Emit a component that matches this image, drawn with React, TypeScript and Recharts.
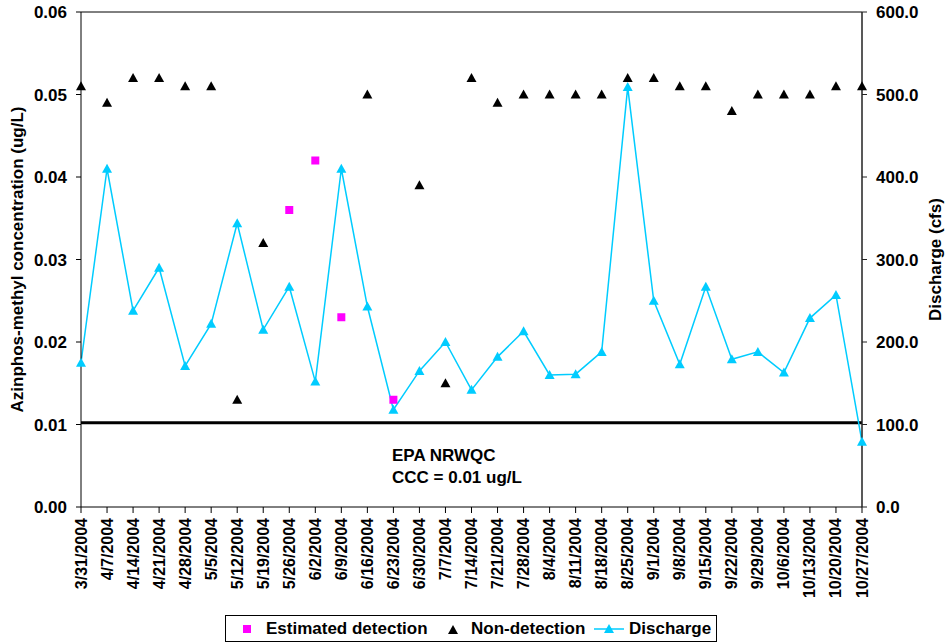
import { ComposedChart, Line, Scatter, XAxis, YAxis, ReferenceLine, Legend, Label } from 'recharts';

const dates = [
  '3/31/2004', '4/7/2004', '4/14/2004', '4/21/2004', '4/28/2004', '5/5/2004', '5/12/2004', '5/19/2004',
  '5/26/2004', '6/2/2004', '6/9/2004', '6/16/2004', '6/23/2004', '6/30/2004', '7/7/2004', '7/14/2004',
  '7/21/2004', '7/28/2004', '8/4/2004', '8/11/2004', '8/18/2004', '8/25/2004', '9/1/2004', '9/8/2004',
  '9/15/2004', '9/22/2004', '9/29/2004', '10/6/2004', '10/13/2004', '10/20/2004', '10/27/2004',
];

const estimated = [
  null, null, null, null, null, null, null, null,
  0.036, 0.042, 0.023, null, 0.013, null, null, null,
  null, null, null, null, null, null, null, null,
  null, null, null, null, null, null, null,
];

const nonDetect = [
  0.051, 0.049, 0.052, 0.052, 0.051, 0.051, 0.013, 0.032,
  null, null, null, 0.05, null, 0.039, 0.015, 0.052,
  0.049, 0.05, 0.05, 0.05, 0.05, 0.052, 0.052, 0.051,
  0.051, 0.048, 0.05, 0.05, 0.05, 0.051, 0.051,
];

const discharge = [
  175, 410, 238, 290, 171, 222, 344, 215,
  267, 152, 410, 243, 118, 165, 200, 142,
  182, 213, 160, 161, 188, 509, 250, 173,
  267, 179, 188, 163, 229, 257, 79,
];

const leftTicks = [0, 0.01, 0.02, 0.03, 0.04, 0.05, 0.06];
const rightTicks = [0, 100, 200, 300, 400, 500, 600];
const criterion = 0.0102;

const data = dates.map((date, i) => ({
  date,
  est: estimated[i],
  nd: nonDetect[i],
  q: discharge[i],
}));

const FONT = '"Liberation Sans", Arial, sans-serif';
const CYAN = '#00CCFF';
const MAGENTA = '#FF00FF';

const tri = (cx: number, cy: number, fill: string) => (
  <polygon points={`${cx},${cy - 5} ${cx - 5},${cy + 4} ${cx + 5},${cy + 4}`} fill={fill} />
);

const EstShape = (p: any) => {
  if (p.payload == null || p.payload.est == null) return <g />;
  return <rect x={p.cx - 4} y={p.cy - 4} width={8} height={8} fill={MAGENTA} />;
};

const NdShape = (p: any) => {
  if (p.payload == null || p.payload.nd == null) return <g />;
  return tri(p.cx, p.cy, '#000');
};

const QDot = (p: any) => <g key={p.index}>{tri(p.cx, p.cy, CYAN)}</g>;

const XTick = ({ x, y, payload }: any) => (
  <text
    x={x}
    y={y + 3}
    transform={`rotate(-90 ${x} ${y + 3})`}
    textAnchor="end"
    dominantBaseline="central"
    fontFamily={FONT}
    fontWeight="bold"
    fontSize={16}
    fill="#000"
  >
    {payload.value}
  </text>
);

const LeftTitle = ({ viewBox }: any) => {
  const cx = 17;
  const cy = viewBox.y + viewBox.height / 2;
  return (
    <text x={cx} y={cy} transform={`rotate(-90 ${cx} ${cy})`} textAnchor="middle" dominantBaseline="central"
      fontFamily={FONT} fontWeight="bold" fontSize={17} fill="#000">
      Azinphos-methyl concentration (ug/L)
    </text>
  );
};

const RightTitle = ({ viewBox }: any) => {
  const cx = 935;
  const cy = viewBox.y + viewBox.height / 2;
  return (
    <text x={cx} y={cy} transform={`rotate(-90 ${cx} ${cy})`} textAnchor="middle" dominantBaseline="central"
      fontFamily={FONT} fontWeight="bold" fontSize={17} fill="#000">
      Discharge (cfs)
    </text>
  );
};

const CriterionLabel = ({ viewBox }: any) => {
  const x = viewBox.x + 311;
  const y = viewBox.y;
  return (
    <g fontFamily={FONT} fontWeight="bold" fontSize={17} fill="#000">
      <text x={x} y={y + 38}>EPA NRWQC</text>
      <text x={x} y={y + 60}>CCC = 0.01 ug/L</text>
    </g>
  );
};

const LegendBox = () => (
  <div
    style={{
      position: 'relative',
      width: 492,
      height: 27,
      boxSizing: 'border-box',
      border: '1px solid #000',
      fontFamily: FONT,
      fontWeight: 'bold',
      fontSize: 17,
      color: '#000',
      background: '#fff',
    }}
  >
    <svg width={8} height={8} style={{ position: 'absolute', left: 17, top: 9 }}>
      <rect width={8} height={8} fill={MAGENTA} />
    </svg>
    <span style={{ position: 'absolute', left: 40, top: 3, whiteSpace: 'nowrap' }}>Estimated detection</span>
    <svg width={10} height={9} style={{ position: 'absolute', left: 222, top: 9 }}>
      {tri(5, 5, '#000')}
    </svg>
    <span style={{ position: 'absolute', left: 245, top: 3, whiteSpace: 'nowrap' }}>Non-detection</span>
    <svg width={30} height={12} style={{ position: 'absolute', left: 368, top: 7 }}>
      <line x1={0} y1={6} x2={30} y2={6} stroke={CYAN} strokeWidth={1.5} />
      {tri(15, 6, CYAN)}
    </svg>
    <span style={{ position: 'absolute', left: 403, top: 3, whiteSpace: 'nowrap' }}>Discharge</span>
  </div>
);

const tickText = { fontFamily: FONT, fontWeight: 'bold', fontSize: 17, fill: '#000' };

export default function App() {
  return (
    <div style={{ position: 'absolute', left: 0, top: 0, width: 947, height: 644, background: '#fff' }}>
      <ComposedChart width={947} height={644} data={data} margin={{ top: 12, right: 0, bottom: 2, left: 0 }}>
        <XAxis
          dataKey="date"
          scale="point"
          padding={{ left: 0, right: 0 }}
          interval={0}
          height={108}
          tick={<XTick />}
          tickSize={6}
          axisLine={{ stroke: '#000' }}
          tickLine={{ stroke: '#000' }}
        />
        <YAxis
          yAxisId="left"
          width={81}
          domain={[0, 0.06]}
          ticks={leftTicks}
          tickFormatter={(v: number) => v.toFixed(2)}
          tick={tickText}
          tickSize={5}
          tickMargin={9}
          axisLine={{ stroke: '#000' }}
          tickLine={{ stroke: '#000' }}
          interval={0}
        >
          <Label content={<LeftTitle />} />
        </YAxis>
        <YAxis
          yAxisId="right"
          orientation="right"
          width={85}
          domain={[0, 600]}
          ticks={rightTicks}
          tickFormatter={(v: number) => v.toFixed(1)}
          tick={tickText}
          tickSize={5}
          tickMargin={9}
          axisLine={{ stroke: '#222', strokeWidth: 1.5 }}
          tickLine={{ stroke: '#222' }}
          interval={0}
        >
          <Label content={<RightTitle />} />
        </YAxis>
        <ReferenceLine yAxisId="left" y={0.06} stroke="#000" strokeWidth={1} />
        <ReferenceLine yAxisId="left" y={criterion} stroke="#000" strokeWidth={3} label={<CriterionLabel />} />
        <Line
          yAxisId="right"
          dataKey="q"
          name="Discharge"
          type="linear"
          stroke={CYAN}
          strokeWidth={1.5}
          dot={<QDot />}
          activeDot={false}
          isAnimationActive={false}
        />
        <Scatter yAxisId="left" dataKey="est" name="Estimated detection" shape={<EstShape />} isAnimationActive={false} />
        <Scatter yAxisId="left" dataKey="nd" name="Non-detection" shape={<NdShape />} isAnimationActive={false} />
        <Legend
          verticalAlign="bottom"
          align="left"
          content={<LegendBox />}
          wrapperStyle={{ left: 225, width: 492 }}
        />
      </ComposedChart>
    </div>
  );
}
